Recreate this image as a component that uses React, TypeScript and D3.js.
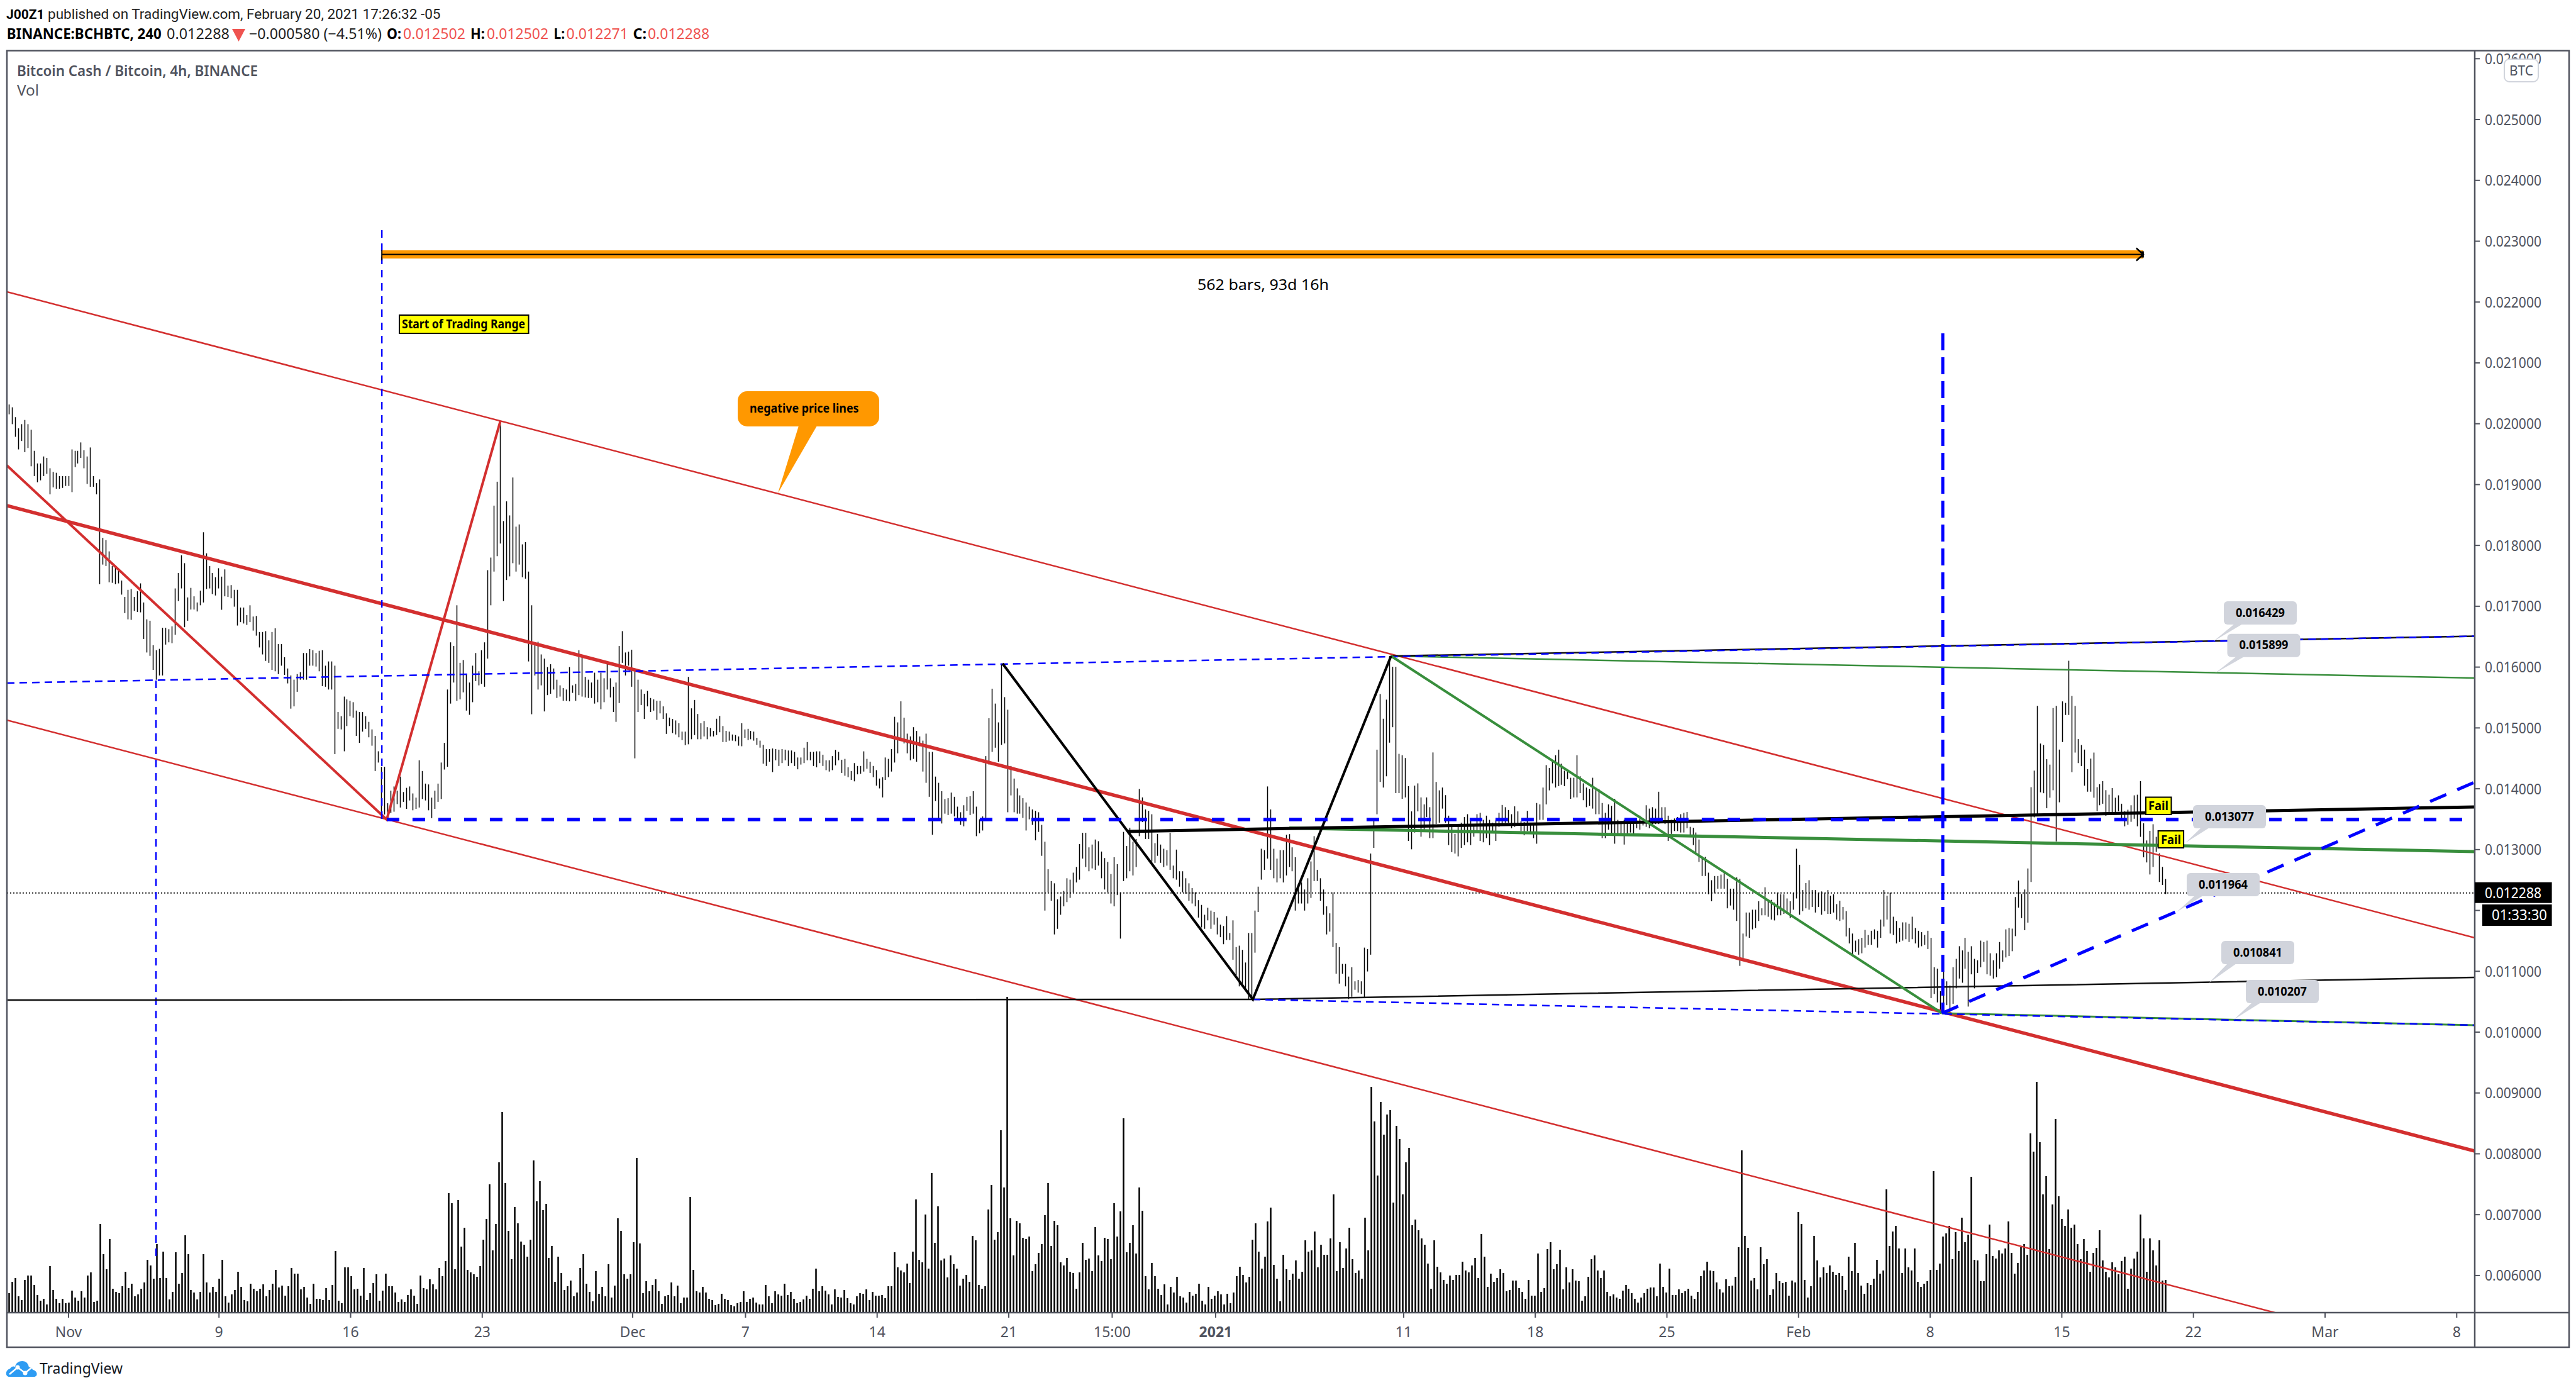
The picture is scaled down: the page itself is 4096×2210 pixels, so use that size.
import React from "react";
import * as d3 from "d3";

// ---- price bars: [high, low] in millionths of BTC, four hours each
const barsNov: number[][] = [[20316,20155],[20270,19993],[20108,19785],[19924,19578],[19993,19716],[20062,19532],[19993,19601],[19901,19301],[19555,19139],[19347,19038],[19347,19070],[19462,19139],[19439,19176],[19268,18839],[19208,18954],[19194,18931],[19139,18931],[19139,18945],[19139,18977],[19139,18977],[19578,18876],[19555,19287],[19555,19347],[19693,19439],[19564,19268],[19462,19010],[19610,18964],[19139,18964],[19024,18839],[19084,17362],[18124,17685],[18087,17662],[17902,17394],[17662,17385],[17639,17362],[17579,17376],[17422,17191],[17154,16887],[17270,16785],[17283,16776],[17154,16923],[17246,16905],[17376,16900],[17062,16462],[16785,16240],[16762,16185],[16360,15954],[16277,15793],[16300,15862],[16646,15862],[16646,16370],[16623,16407],[16670,16393],[17293,16531],[17547,17085],[17837,17293],[17708,16656],[17145,16762],[17302,16946],[17163,16946],[17062,16914],[17256,17016],[18216,17062],[17870,17283],[17662,17293],[17547,17200],[17477,17177],[17625,17293],[17487,16942],[17606,17163],[17339,17154],[17348,17131],[17270,16993],[17270,16683],[16979,16739],[16979,16716],[16854,16693],[17016,16739],[16831,16600],[16840,16517],[16577,16323],[16577,16208],[16591,16102],[16439,16070],[16577,15954],[16637,15931],[16379,15885],[16379,16023],[16162,15871],[15977,15732],[15862,15317],[15793,15354],[15885,15594],[15917,15793],[16231,15793],[16231,15793],[16296,16023],[16277,16023],[16231,16009],[16268,15931],[16277,15686],[16023,15677],[16093,15631],[16093,15631],[16023,14569],[15262,14985],[15193,14976],[15515,14616],[15469,15031],[15446,15193],[15423,15170],[15285,14869],[15262,14754],[15262,14939],[15193,14985],[15100,14846],[14976,14708],[14869,14292],[14616,14431],[14361,13508],[14361,13577],[13762,13485],[13969,13600],[14038,13623],[13969,13748],[14200,13692],[13946,13785],[14015,13669],[14038,13808],[13923,13646],[13854,13669],[14468,13692],[14292,13831],[14085,13808],[14071,13646],[13854,13517],[13969,13669],[14085,13785],[14431,13831],[14754,14316],[15631,14361],[16407,15400],[16347,15746],[17016,15446],[16070,15469],[16116,15585],[15885,15285],[15746,15216],[16023,15423],[16231,15770],[15931,15700],[16277,15723],[16407,15677],[17593,16139],[17800,17016],[18654,17570],[19047,17823],[20039,18031],[18400,17085],[18724,17431],[18493,17491],[19116,17708],[18308,17570],[18345,17685],[18017,17477],[18054,17454],[17570,16093],[17016,15225],[16370,15862],[16416,15631],[16208,15700],[16139,15271],[16000,15539],[16047,15562],[15977,15631],[15793,15492],[15700,15515],[15654,15446],[15631,15446],[16000,15437],[15700,15576],[15723,15446],[16277,15539],[16185,15515],[15839,15502],[15793,15492],[15746,15492],[15908,15400],[15793,15423],[15908,15308],[15816,15423],[16070,15631],[15816,15502],[15677,15262],[15746,15100],[16347,15409],[16591,16070],[16240,15862],[16254,16023],[16286,15677],[15977,14500],[15793,15262],[15631,15377],[15562,15147],[15608,15354],[15492,15262],[15469,15285],[15446,15132],[15446,15239],[15354,15147],[15239,14902],[15170,15031],[15147,14916],[15123,14893],[15077,14846],[14939,14800],[14939,14717],[15839,14731]];
const barsDec: number[][] = [[15322,14814],[15460,14883],[15229,14814],[15077,14814],[15114,14860],[15012,14814],[14998,14860],[14952,14860],[15151,14883],[15197,14929],[15031,14768],[14952,14768],[14939,14791],[14892,14791],[14883,14782],[14860,14708],[15077,14699],[14975,14837],[14985,14800],[14952,14814],[14939,14791],[14837,14722],[14791,14676],[14722,14412],[14652,14375],[14652,14445],[14662,14274],[14652,14468],[14643,14375],[14652,14422],[14643,14468],[14629,14375],[14629,14422],[14606,14375],[14514,14320],[14514,14398],[14675,14422],[14768,14468],[14606,14468],[14606,14375],[14615,14352],[14615,14422],[14560,14375],[14468,14306],[14468,14283],[14537,14306],[14639,14385],[14606,14468],[14477,14260],[14491,14214],[14352,14191],[14292,14145],[14422,14122],[14375,14237],[14375,14246],[14615,14283],[14491,14329],[14445,14260],[14375,14191],[14306,14052],[14168,14006],[14191,13858],[14514,14145],[14491,14191],[14652,14283],[15183,14431],[15091,14583],[15437,14837],[15169,14745],[14906,14583],[14860,14468],[15012,14491],[14952,14445],[14860,14699],[14791,14283],[14906,14098],[14606,13868],[14606,13244],[14200,13798],[14098,13498],[13960,13429],[13831,13591],[13845,13568],[13937,13591],[13868,13545],[13706,13498],[13614,13406],[13729,13383],[13868,13637],[13877,13568],[13960,13591],[13706,13221],[13498,13268],[13545,13314],[14537,13521],[15160,14398],[15645,14606],[15400,14675],[15091,14445],[16060,14722],[15506,14745],[15299,13614],[14375,13891],[14168,13614],[14006,13591],[13891,13591],[13845,13521],[13775,13314],[13706,13498],[13660,13406],[13637,13152],[13614,13291],[13406,12898],[13129,11998],[12677,12298],[12483,12160],[12446,11606],[12183,11698],[12229,11929],[12321,12067],[12529,12137],[12506,12206],[12621,12298],[12714,12460],[13092,12506],[13277,12852],[13277,12714],[13037,12644],[13083,12691],[13166,12668],[13138,12737],[12968,12529],[12861,12344],[12797,12298],[12598,12114],[12875,12067],[12760,12252],[12298,11537],[13291,12483],[13060,12529],[13360,12644],[13129,12575],[13175,12714],[13997,13221],[13858,13452],[13660,13175],[13637,13175],[13581,12806],[13106,12783],[13258,12898],[13083,12783],[13014,12714],[12991,12737],[13277,12668],[12737,12529],[13000,12506],[12644,12391],[12644,12298],[12529,12275],[12446,12160],[12367,12114],[12298,12067],[12169,11883],[12091,11721],[11929,11698],[12044,11837],[11998,11698],[11975,11767],[11883,11606],[11767,11560],[11744,11445],[11906,11514],[11629,11514],[11837,11190],[11398,10936],[11421,10752],[11352,10775],[11144,10729],[11629,10544],[11629,10544],[11998,11306],[12391,11975],[13014,12506],[12991,12668],[14038,12852],[13660,12668],[13014,12529],[12852,12460],[12991,12529],[12991,12460],[13244,12575],[13254,12714],[13037,12644],[12875,11998],[12437,12114],[12460,12114],[12344,11998],[12529,12114],[12806,12206],[13221,12483],[12668,12483],[12529,12160],[12344,11929],[12067,11606],[11952,11652],[12298,11398],[11467,10960],[11398,10798],[11121,10960],[11121,10752],[10913,10544]];
const barsJan: number[][] = [[11066,10581],[10835,10696],[10858,10650],[10835,10627],[11389,10558],[11366,10997],[12935,11273],[13489,13028],[14643,13581],[15557,14112],[15151,14020],[15465,14205],[16180,14758],[16005,15012],[16005,13928],[14574,13928],[14551,13835],[14505,13858],[14043,13143],[13628,13005],[14052,13281],[14089,13628],[13858,13212],[13743,13328],[13858,13535],[13697,13189],[14597,13189],[14112,13420],[13974,13443],[14020,13674],[13895,13443],[13558,13074],[13374,12958],[13258,12935],[13374,12889],[13443,13028],[13535,13074],[13582,13120],[13489,13074],[13397,13212],[13582,13281],[13605,13143],[13489,13120],[13558,13189],[13489,13074],[13443,13281],[13489,13143],[13605,13374],[13734,13420],[13697,13443],[13651,13443],[13582,13351],[13711,13374],[13628,13420],[13466,13305],[13452,13235],[13637,13305],[13443,13281],[13443,13189],[13766,13097],[13743,13489],[14020,13489],[14389,13743],[14343,13974],[14435,14089],[14551,14020],[14643,14043],[14412,14066],[14297,14043],[14297,14158],[14181,13835],[14181,13858],[14551,13858],[14205,13928],[14089,13812],[14020,13697],[13997,13720],[14181,13674],[13997,13582],[13997,13582],[13766,13189],[13605,13189],[13743,13328],[13720,13235],[13835,13097],[13489,13258],[13466,13235],[13489,13083],[13466,13258],[13466,13281],[13466,13235],[13489,13351],[13558,13328],[13466,13397],[13729,13374],[13674,13351],[13697,13397],[13674,13420],[13951,13420],[13697,13466],[13697,13420],[13558,13143],[13489,13258],[13512,13305],[13535,13305],[13582,13281],[13605,13281],[13618,13351],[13374,13212],[13360,13074],[13281,12958],[13166,12797],[12889,12566],[12880,12566],[12621,12266],[12497,12151],[12566,12289],[12566,12358],[12589,12358],[12612,12358],[12520,12035],[12358,12081],[12358,12012],[12543,11827],[12520,11089],[11620,11181],[11966,11573],[11966,11550],[12012,11689],[12012,11712],[12151,11827],[12035,11920],[12381,11920],[12174,11896],[12174,11850],[12128,11836],[12289,11920],[12266,11920],[12266,11943],[12197,11966],[12151,11874],[12289,12012],[13014,12197],[12751,11929],[12335,11989],[12451,12035],[12497,12012],[12335,12058],[12335,11966],[12289,12058],[12312,11929],[12289,11989],[12335,11943],[12243,11943],[12266,11966],[12104,11850],[12160,11827],[12058,11850],[11989,11573],[11712,11458],[11620,11273],[11504,11319],[11527,11273],[11550,11296],[11680,11389],[11596,11435],[11666,11435],[11689,11527],[11666,11389],[11850,11550],[12335,11735],[12243,11850],[12289,11620],[11897,11596],[11827,11458],[11712,11481],[11804,11504],[11804,11527],[11781,11481],[11897,11527],[11712,11458],[11666,11389],[11643,11412],[11596,11435],[11666,11366],[11550,10558],[11066,10627],[11043,10489],[10673,10304],[10997,10304],[10835,10443],[10766,10304],[11066,10466],[11204,10720],[11412,10881],[11343,10812],[11550,11043],[11320,10420],[11412,10950],[11204,10720],[11181,10973],[11504,11066],[11481,11158],[11504,10950],[11296,10927],[11181,10881],[11296,10904],[11481,11043],[11343,11158],[11689,11227],[11712,11250]];
const barsFeb: number[][] = [[11701,11330],[12220,11577],[12492,12047],[12270,11874],[12344,11676],[12690,11800],[14026,12468],[14298,13531],[15362,13556],[14743,13942],[14719,13927],[14486,13680],[14397,13853],[15327,13976],[15362,13135],[14644,13778],[15436,14768],[15411,15213],[16104,15213],[15525,14273],[15362,14595],[14817,14422],[14719,14372],[14644,14051],[14323,13952],[14496,13952],[14595,13853],[14026,13630],[14075,13729],[14125,13754],[13977,13556],[13902,13606],[14011,13606],[13853,13581],[13892,13630],[13754,13507],[13630,13383],[13655,13408],[13729,13457],[13892,13507],[13902,13383],[14125,13210],[13432,12873],[13150,12789],[13309,12591],[13417,12715],[13210,12962],[12938,12468],[12715,12418],[12517,12270]];

// ---- volume bars (relative units)
const volNov = [78,123,138,65,50,132,150,150,110,70,45,53,32,187,90,55,37,55,37,38,88,60,45,85,58,150,162,42,47,360,237,175,297,95,82,78,105,165,98,116,65,73,95,122,213,190,135,278,140,247,140,52,82,245,115,160,313,237,90,80,52,83,237,122,80,102,83,136,213,65,38,72,90,165,102,50,43,115,95,85,95,113,63,90,115,172,100,108,67,105,180,157,157,93,102,60,33,116,53,55,50,98,50,110,249,47,37,183,183,147,92,95,67,180,50,77,118,155,45,87,158,105,105,80,42,52,42,70,92,68,33,150,98,92,133,114,92,180,147,208,487,445,175,457,268,345,172,162,155,145,188,295,380,523,252,360,612,817,527,332,217,430,363,287,275,227,295,620,452,536,417,442,220,270,123,227,160,90,105,128,63,80,180,237,115,83,43,167,75,102,65,195,60,107,382,332,155,135,155,285,630,280,78,127,85,110,133,85,33,65,70,122,63,107,37,60,60,470,172,85,80,103,80,53,50,28,33,75,55,50,27,22,35,40,85,40,55,58,38,30,32,110,65,37,85,73,68,115,70,83,55,35,40,52,67,55,95,177,85,105,88,73,30,93,62,58,90,57,35,30,65,78,75,92,50,83,68,68];
const volDec = [70,57,105,105,245,183,170,163,198,118,247,460,213,203,398,177,568,282,432,210,219,142,232,195,177,109,135,152,123,312,292,111,95,105,420,520,295,327,743,510,1288,382,232,372,362,304,297,309,168,195,242,277,397,527,270,374,355,203,190,222,165,160,95,163,283,213,218,168,347,232,208,304,297,217,445,309,412,792,245,282,355,240,510,413,147,93,200,147,95,70,114,30,102,80,143,65,60,38,83,68,75,115,45,30,103,53,68,85,73,30,75,37,80,147,185,152,122,145,295,362,247,178,227,370,426,194,135,43,234,175,130,158,210,135,165,293,247,253,330,183,275,234,234,300,480,167,285,180,260,345,215,160,170,135,385,252,920,780,558,858,725,808,825,447,762,707,480,613,672,355,377,335,300,275,198,95,294,185,162,132,116,150,130,152,152,205,170,163,190,222,138,318,225,102,158,123,140,175,160,85,90,128,128,97,82,53,130,68,68,240,82,97,257,285,175,195,254,92,183,122,175,128,127,45,65,145,215,232,170,140,170,83,63,72,60,53,88,110,95,78,55,38,60,78,95,100,100,65,198,102,80,178,70,70,92,78,85,95,68,53,83,147,170,205,170,168,120,93,80,133,105,107,143,265,660,312,263,128,138,92];
const volFeb = [265,195,215,70,92,160,127,117,123,68,128,122,408,360,130,58,105,312,212,142,183,160,190,165,152,160,147,90,227,167,282,160,107,75,118,110,135,213,158,170,502,270,330,353,260,160,260,183,170,260,123,103,115,127,172,575,172,198,308,322,353,217,327,250,385,285,315,553,213,212,127,125,237,358,230,218,253,240,260,370,242,158,200,265,277,235,730,655,942,693,480,555,258,440,790,474,380,353,420,345,358,278,215,297,250,165,242,263,335,210,165,142,203,183,155,208,227,95,178,218,247,398,300,165,300,253,190,293,128,132];

// ---- axes
const priceTicks = [6000,7000,8000,9000,10000,11000,12000,13000,14000,15000,16000,17000,18000,19000,20000,21000,22000,23000,24000,25000,26000];
const timeTickDays = [0,8,15,22,30,36,43,50,55.5,61,71,78,85,92,99,106,113,120,127];
const timeTickLabels = ["Nov","9","16","23","Dec","7","14","21","15:00","2021","11","18","25","Feb","8","15","22","Mar","8"];

// ---- drawn tools: [day since 1 Nov 2020, price in millionths]
const leftDay = -3.28, rightDay = 127.96;
const pivotB = [16.92,13494], pivotA = [22.96,20038], pivotT = [49.67,16058], pivotU = [62.98,10538], pivotQ = [70.33,16182], pivotS = [99.63,10310];
const channelUpper = [[leftDay,22168],[rightDay,11551]];
const channelMid = [[leftDay,18653],[rightDay,8046]];
const channelLower = [[leftDay,15128],[rightDay,4531]];
const redSwing = [[leftDay,19315],pivotB,pivotA];
const blackSwing = [pivotT,pivotU,pivotQ];
const greenSwing = [pivotQ,pivotS];
const blueUpper = [[leftDay,15738],[rightDay,16508]];
const blackUpper = [pivotQ,[rightDay,16508]];
const greenUpper = [pivotQ,[rightDay,15820]];
const blackThick = [[56.29,13298],[rightDay,13701]];
const greenThick = [[64.92,13355],[rightDay,12967]];
const blueFlat = [pivotB,[rightDay,13494]];
const blackLower = [[leftDay,10527],pivotU,[rightDay,10899]];
const blueLower = [pivotU,[rightDay,10114]];
const greenLower = [pivotS,[rightDay,10114]];
const blueRising = [pivotS,[rightDay,14109]];
const vertStart = [[16.66,23181],[16.66,13494]];
const vertSwing = [[4.65,15779],[4.65,6237]];
const vertLow = [[99.67,21486],[99.67,10310]];
const dateRange = [[16.66,22783],[110.33,22783]];
const lastPrice = 12288;

const FONT = "'Noto Sans', sans-serif";
const INK = "#50535e";
const RED = "#ef5350";

const Fit = ({ x, y, w, size, fill = "#000", bold = false, weight, anchor = "start", children }: any) => (
  <text x={x} y={y} fontSize={size} fill={fill} fontFamily={FONT} fontWeight={weight ?? (bold ? 700 : 400)} textAnchor={anchor} textLength={w} lengthAdjust="spacingAndGlyphs">{children}</text>
);

const callouts = [
  { t: "0.016429", x: 3536, y: 956, tip: [3519, 1020], base: [3553, 3566] },
  { t: "0.015899", x: 3541.5, y: 1007.7, tip: [3522.5, 1070], base: [3556, 3569] },
  { t: "0.013077", x: 3487, y: 1280, tip: [3475, 1340], base: [3500, 3513] },
  { t: "0.011964", x: 3477, y: 1388, tip: [3461, 1450], base: [3490, 3503] },
  { t: "0.010841", x: 3532, y: 1496, tip: [3512, 1563], base: [3542, 3556] },
  { t: "0.010207", x: 3571, y: 1558, tip: [3552, 1621], base: [3581, 3595] },
];

export default function App() {
  const W = 4096, H = 2210;
  const L = 11, R = 3935, T = 80.5, B = 2087, OR = 4085, OB = 2142;
  const x = d3.scaleLinear().domain([0, 127]).range([109, 3906.3]);
  const y = d3.scaleLinear().domain([10000, 20000]).range([1641, 673.7]);
  const bars = [...barsNov, ...barsDec, ...barsJan, ...barsFeb];
  const vols = [...volNov, ...volDec, ...volFeb];
  const firstDay = x.invert(14), lastDay = x.invert(3443);
  const barX = d3.scaleLinear().domain([0, bars.length - 1]).range([x(firstDay), x(lastDay)]);
  const volX = d3.scaleLinear().domain([0, vols.length - 1]).range([x(firstDay), x(lastDay)]);
  const volY = d3.scaleLinear().domain([0, 1288]).range([2086, 1585]);
  const line = d3.line<number[]>().x((d) => x(d[0])).y((d) => y(d[1]));
  const seg = (pts: number[][], stroke: string, width: number, dash?: string) => (
    <path d={line(pts) ?? ""} fill="none" stroke={stroke} strokeWidth={width} strokeDasharray={dash} />
  );
  const lastY = y(lastPrice);
  const rangeEndX = x(dateRange[1][0]);
  const rangeY = y(dateRange[1][1]);
  return (
    <svg width={W} height={H} viewBox={`0 0 ${W} ${H}`} style={{ position: "absolute", left: 0, top: 0, background: "#fff" }}>
      <defs><clipPath id="pane"><rect x={L} y={T} width={R - L} height={B - T} /></clipPath></defs>

      <g clipPath="url(#pane)">
        {seg([[leftDay, lastPrice], [rightDay, lastPrice]], "#222", 2, "2 3")}
        {vols.map((v, i) => (
          <rect key={i} x={Math.round(volX(i)) - 0.75} y={Math.round(volY(v))} width={2.5} height={2086 - Math.round(volY(v))} fill="#000" />
        ))}
        {bars.map((b, i) => (
          <rect key={i} x={Math.round(barX(i)) - 0.25} y={y(b[0])} width={1.5} height={y(b[1]) - y(b[0])} fill="#000" />
        ))}
        {seg(channelUpper, "#d32f2f", 2.5)}
        {seg(channelLower, "#d32f2f", 2.5)}
        {seg(channelMid, "#d32f2f", 5.5)}
        {seg(redSwing, "#d32f2f", 4)}
        {seg(vertStart, "#0000ff", 2.5, "12 9")}
        {seg(vertSwing, "#0000ff", 2.5, "12 9")}
        {seg(blackLower, "#111", 2.5)}
        {seg(greenUpper, "#388e3c", 2.5)}
        {seg(greenLower, "#388e3c", 3)}
        {seg(blackUpper, "#111", 2.5)}
        {seg(blueUpper, "#0000ff", 2.5, "12 8")}
        {seg(blueLower, "#0000ff", 2.5, "12 8")}
        {seg(greenThick, "#388e3c", 5)}
        {seg(blackThick, "#000", 5)}
        {seg(greenSwing, "#388e3c", 4)}
        {seg(blackSwing, "#000", 4)}
        {seg(blueFlat, "#0000ff", 5.5, "20 21")}
        {seg(blueRising, "#0000ff", 5, "28 19")}
        {seg(vertLow, "#0000ff", 5, "27 11")}

        {seg(dateRange, "#ff9800", 13)}
        {seg(dateRange, "#000", 2)}
        <line x1={x(16.66)} x2={x(16.66)} y1={398} y2={414} stroke="#111" strokeWidth={2} />
        <path d={`M${rangeEndX - 11},${rangeY - 10} L${rangeEndX},${rangeY} L${rangeEndX - 11},${rangeY + 10}`} fill="none" stroke="#000" strokeWidth={2.5} />
        <rect x={rangeEndX - 3} y={rangeY - 5} width={4} height={10} fill="#000" />
      </g>

      <Fit x={1904} y={461} w={209} size={23}>562 bars, 93d 16h</Fit>

      <rect x={635} y={501} width={205.5} height={29} fill="#ffff00" stroke="#000" strokeWidth={2} />
      <Fit x={639} y={522} w={196} size={20} bold>Start of Trading Range</Fit>

      <rect x={1173} y={622} width={225} height={56} rx={15} fill="#ff9800" />
      <path d="M1270,677 L1299,677 L1237,784 Z" fill="#ff9800" />
      <Fit x={1192} y={656} w={173.5} size={19} bold>negative price lines</Fit>

      {callouts.map((c) => (
        <g key={c.t}>
          <path d={`M${c.base[0]},${c.y + 36} L${c.base[1]},${c.y + 36} L${c.tip[0]},${c.tip[1]} Z`} fill="#d1d4dc" />
          <rect x={c.x} y={c.y} width={116} height={37} rx={6} fill="#d1d4dc" />
          <Fit x={c.x + 58} y={c.y + 24.5} w={78} size={19.5} bold anchor="middle">{c.t}</Fit>
        </g>
      ))}

      <rect x={3412} y={1267.5} width={40.5} height={27.5} fill="#ffff00" stroke="#000" strokeWidth={2} />
      <Fit x={3416} y={1288} w={32} size={20} bold>Fail</Fit>
      <rect x={3431.6} y={1321} width={40.5} height={27} fill="#ffff00" stroke="#000" strokeWidth={2} />
      <Fit x={3436} y={1342} w={32} size={20} bold>Fail</Fit>

      {/* frame */}
      <rect x={L} y={T} width={OR - L} height={OB - T} fill="none" stroke={INK} strokeWidth={2.5} />
      <line x1={L} x2={OR} y1={B} y2={B} stroke={INK} strokeWidth={2.5} />
      <line x1={R} x2={R} y1={T} y2={OB} stroke={INK} strokeWidth={2.5} />

      {/* price axis */}
      {priceTicks.map((p) => (
        <g key={p}>
          <line x1={R} x2={R + 8} y1={y(p)} y2={y(p)} stroke={INK} strokeWidth={2} />
          {p !== 12000 && (
            <Fit x={3951} y={y(p) + 8.5} w={90} size={24} fill={INK}>{d3.format(".6f")(p / 1e6)}</Fit>
          )}
        </g>
      ))}
      <rect x={3982} y={94} width={54} height={36} rx={8} fill="#fff" stroke="#d1d4dc" strokeWidth={2} />
      <Fit x={4009} y={120} w={38} size={21} fill={INK} anchor="middle">BTC</Fit>
      <rect x={3935} y={lastY - 17} width={122.6} height={33} fill="#000" />
      <Fit x={3951} y={lastY + 8.5} w={90} size={24} fill="#fff">{d3.format(".6f")(lastPrice / 1e6)}</Fit>
      <rect x={3947} y={1438} width={110.6} height={34} fill="#000" />
      <Fit x={3962} y={1463} w={88} size={24} fill="#fff">01:33:30</Fit>

      {/* time axis */}
      {timeTickDays.map((d, i) => (
        <g key={i}>
          <line x1={x(d)} x2={x(d)} y1={B} y2={B + 8} stroke={INK} strokeWidth={2} />
          <text x={x(d)} y={2126} fontSize={23} fill={INK} fontFamily={FONT} textAnchor="middle" fontWeight={timeTickLabels[i] === "2021" ? 700 : 400}>{timeTickLabels[i]}</text>
        </g>
      ))}

      {/* header */}
      <text x={10} y={30} fontSize={21} fontFamily="Roboto, sans-serif" fontWeight={700} fill="#000">J00Z1</text>
      <text x={76} y={30} fontSize={22.5} fontFamily="Roboto, sans-serif" fill="#222">published on TradingView.com, February 20, 2021 17:26:32 -05</text>
      <Fit x={10.8} y={62} w={246} size={24} bold>BINANCE:BCHBTC, 240</Fit>
      <Fit x={265} y={62} w={100} size={24} fill="#222">0.012288</Fit>
      <path d="M369,46 L390,46 L379.5,66 Z" fill={RED} />
      <Fit x={396} y={62} w={211} size={24} fill="#222">−0.000580 (−4.51%)</Fit>
      <Fit x={615} y={62} w={23} size={24} bold>O:</Fit>
      <Fit x={641} y={62} w={99} size={24} fill={RED}>0.012502</Fit>
      <Fit x={748} y={62} w={23} size={24} bold>H:</Fit>
      <Fit x={774} y={62} w={98} size={24} fill={RED}>0.012502</Fit>
      <Fit x={880.6} y={62} w={17.5} size={24} bold>L:</Fit>
      <Fit x={900.5} y={62} w={98.5} size={24} fill={RED}>0.012271</Fit>
      <Fit x={1006.6} y={62} w={21.4} size={24} bold>C:</Fit>
      <Fit x={1030} y={62} w={98} size={24} fill={RED}>0.012288</Fit>

      <Fit x={27} y={120.5} w={383} size={24} fill={INK} weight={600}>Bitcoin Cash / Bitcoin, 4h, BINANCE</Fit>
      <Fit x={27} y={152} w={35} size={24} fill={INK}>Vol</Fit>

      {/* logo */}
      <path d="M15,2189 C8,2189 8,2178 16,2176 C18,2172 22,2172 24,2173 C26,2162 44,2160 46,2174 C50,2173 52,2177 52,2178 C60,2179 61,2189 54,2189 Z" fill="#2e9cf3" />
      <path d="M15,2185 L28,2174 L40,2183 L52,2173" fill="none" stroke="#fff" strokeWidth={2.5} />
      <circle cx={28} cy={2174} r={3.5} fill="#fff" />
      <circle cx={40} cy={2183} r={3.5} fill="#fff" />
      <Fit x={63} y={2184} w={132} size={24} fill="#131722">TradingView</Fit>
    </svg>
  );
}
